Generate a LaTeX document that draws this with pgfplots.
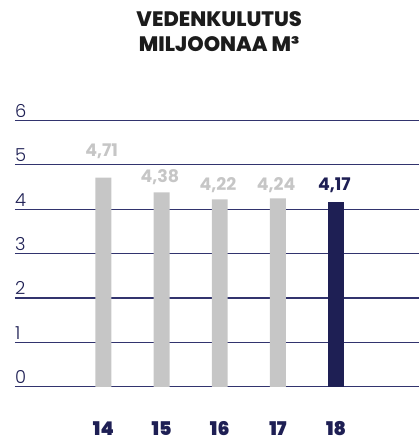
\documentclass[border=0pt]{standalone}
\usepackage{fontspec}
\setmainfont{Lato}
\newfontfamily\heavyfont{Poppins Black}
\newfontfamily\titlefont{Poppins ExtraBold}
\newfontfamily\valfont{Poppins Bold}
\newfontfamily\lightfont{Poppins Light}
\usepackage{pgfplots}
\pgfplotsset{compat=1.18}
\definecolor{navy}{RGB}{30,31,84}
\definecolor{gridnavy}{RGB}{50,52,110}
\definecolor{bargray}{RGB}{198,198,198}
\definecolor{titleblack}{RGB}{28,28,28}
\begin{document}
\begin{tikzpicture}
\begin{axis}[
  scale only axis,
  width=406pt, height=268pt,
  xmin=-1.521, xmax=5.419,
  ymin=0, ymax=6,
  clip=false,
  axis line style={draw=none},
  tick style={draw=none},
  ymajorgrids,
  grid style={gridnavy, line width=1.1pt},
  ytick={0,1,2,3,4,5,6},
  yticklabels={0,1,2,3,4,5,6},
  yticklabel style={anchor=base west, inner sep=0pt, yshift=3pt, font=\lightfont\fontsize{18}{18}\selectfont, text=navy},
  xtick={0,1,2,3,4},
  xticklabels={14,15,16,17,18},
  xticklabel style={anchor=base, inner sep=0pt, yshift=-45pt, font=\heavyfont\fontsize{19}{19}\selectfont, text=navy},
  ybar, bar width=16pt,
]
\addplot[fill=bargray, draw=none, bar shift=0pt] coordinates {(0,4.71) (1,4.38) (2,4.22) (3,4.24)};
\addplot[fill=navy, draw=none, bar shift=0pt] coordinates {(4,4.17)};
\begin{scope}[every node/.style={anchor=base, inner sep=0pt, font=\valfont\fontsize{17.5}{17.5}\selectfont}]
\node[text=bargray] at (axis cs:-0.03,5.19) {4,71};
\node[text=bargray] at (axis cs:0.97,4.61) {4,38};
\node[text=bargray] at (axis cs:1.97,4.41) {4,22};
\node[text=bargray] at (axis cs:2.97,4.41) {4,24};
\node[text=navy] at (axis cs:3.97,4.41) {4,17};
\end{scope}
\node[anchor=base, inner sep=0pt, text=titleblack, font=\titlefont\fontsize{21}{21}\selectfont] at (axis cs:1.99,8.104) {VEDENKULUTUS};
\node[anchor=base, inner sep=0pt, text=titleblack, font=\titlefont\fontsize{21}{21}\selectfont] at (axis cs:1.99,7.544) {MILJOONAA M³};
\end{axis}
\path (-15pt,-47pt) rectangle (406pt,389pt);
\end{tikzpicture}
\end{document}
